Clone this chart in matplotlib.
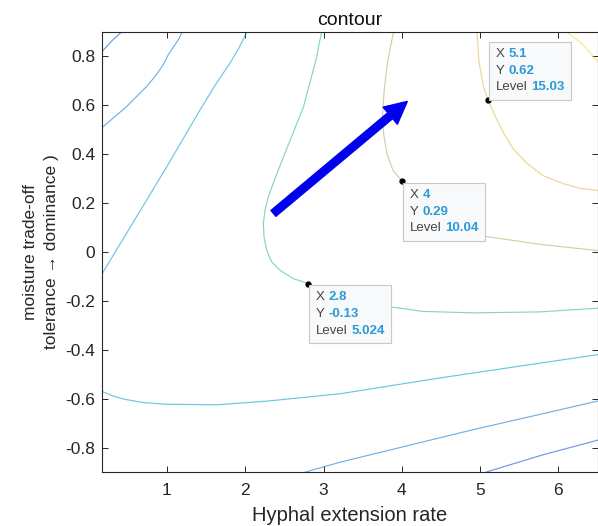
import numpy as np
import matplotlib.pyplot as plt
from matplotlib.colors import LinearSegmentedColormap, Normalize
from matplotlib.offsetbox import TextArea, HPacker, VPacker, AnnotationBbox

plt.rcParams['font.family'] = ['Liberation Sans', 'DejaVu Sans']
plt.rcParams['axes.unicode_minus'] = False

# contour lines (level, x, y)
lvl_m10_a_x = [0.17, 0.30, 0.42]
lvl_m10_a_y = [0.82, 0.865, 0.90]
lvl_m10_b_x = [5.08, 5.80, 6.50]
lvl_m10_b_y = [-0.90, -0.83, -0.77]

lvl_m5_a_x = [0.186, 0.335, 0.484, 0.612, 0.740, 0.847, 0.953, 1.017, 1.102, 1.157, 1.209]
lvl_m5_a_y = [0.513, 0.554, 0.595, 0.636, 0.677, 0.718, 0.766, 0.807, 0.848, 0.875, 0.909]
lvl_m5_b_x = [2.77, 3.21, 4.87, 6.50]
lvl_m5_b_y = [-0.90, -0.86, -0.73, -0.61]

lvl_0_a_x = [0.17, 0.56, 1.00, 1.42, 1.64, 1.80, 1.92, 2.02]
lvl_0_a_y = [-0.09, 0.117, 0.35, 0.58, 0.695, 0.77, 0.835, 0.90]
lvl_0_b_x = [0.17, 0.30, 0.45, 0.70, 1.00, 1.64, 2.28, 3.21, 4.49, 6.50]
lvl_0_b_y = [-0.57, -0.588, -0.602, -0.616, -0.623, -0.625, -0.61, -0.58, -0.515, -0.42]

lvl_5_x = [2.978, 2.944, 2.914, 2.829, 2.744, 2.616, 2.488, 2.381, 2.295, 2.253, 2.231,
           2.240, 2.274, 2.338, 2.445, 2.615, 2.806, 3.05, 3.30, 3.60, 3.89, 4.27, 4.91,
           5.77, 6.50]
lvl_5_y = [0.901, 0.853, 0.799, 0.696, 0.594, 0.491, 0.389, 0.301, 0.226, 0.171, 0.117,
           0.062, 0.007, -0.040, -0.075, -0.109, -0.129, -0.165, -0.195, -0.215, -0.226,
           -0.243, -0.249, -0.245, -0.23]

lvl_10_x = [3.894, 3.852, 3.809, 3.775, 3.754, 3.767, 3.809, 3.886, 3.992, 4.20, 4.50,
            4.80, 5.09, 5.77, 6.50]
lvl_10_y = [0.901, 0.833, 0.758, 0.662, 0.567, 0.485, 0.403, 0.335, 0.294, 0.22, 0.14,
            0.09, 0.063, 0.031, 0.006]

lvl_15_x = [4.96, 4.985, 5.04, 5.10, 5.19, 5.29, 5.42, 5.60, 5.80, 6.06, 6.28, 6.50]
lvl_15_y = [0.902, 0.78, 0.68, 0.624, 0.558, 0.493, 0.423, 0.362, 0.313, 0.280, 0.260, 0.252]

lvl_20_x = [6.11, 6.31, 6.50]
lvl_20_y = [0.90, 0.85, 0.78]

lines = [
    (-10, lvl_m10_a_x, lvl_m10_a_y), (-10, lvl_m10_b_x, lvl_m10_b_y),
    (-5, lvl_m5_a_x, lvl_m5_a_y), (-5, lvl_m5_b_x, lvl_m5_b_y),
    (0, lvl_0_a_x, lvl_0_a_y), (0, lvl_0_b_x, lvl_0_b_y),
    (5, lvl_5_x, lvl_5_y), (10, lvl_10_x, lvl_10_y),
    (15, lvl_15_x, lvl_15_y), (20, lvl_20_x, lvl_20_y),
]

# data tips
tip_x = [2.8, 4, 5.1]
tip_y = [-0.13, 0.29, 0.62]
tip_level = [5.024, 10.04, 15.03]

x_ticks = [1, 2, 3, 4, 5, 6]
y_ticks = [-0.8, -0.6, -0.4, -0.2, 0, 0.2, 0.4, 0.6, 0.8]

# parula-like colormap
parula = LinearSegmentedColormap.from_list('parula', [
    '#352a87', '#0f5cdd', '#1481d6', '#06a4ca', '#2eb7a4',
    '#87bf77', '#d1bb59', '#fec832', '#f9fb0e'])
norm = Normalize(-14, 23)

fig = plt.figure(figsize=(5.98, 5.26), dpi=100)
ax = fig.add_axes([102 / 598, 54 / 526, 495.5 / 598, 440 / 526])

for lev, xs, ys in lines:
    ax.plot(xs, ys, color=parula(norm(lev)), lw=0.85, alpha=0.6, zorder=2)

# arrow annotation
ax.annotate('', xy=(4.07, 0.616), xytext=(2.36, 0.158),
            arrowprops=dict(facecolor='#0000ee', edgecolor='#0000ee',
                            width=5.5, headwidth=16, headlength=16),
            zorder=4)

ax.plot(tip_x, tip_y, 'o', color='k', ms=3.5, zorder=5)

tip_align = [(0, 1), (0, 1), (0, 0)]
tip_off = [(5.5, -5.5), (5.5, -5.5), (5.5, 5)]
for i in range(len(tip_x)):
    rows = []
    for lab, val in [('X', '%g' % tip_x[i]), ('Y', '%g' % tip_y[i]),
                     ('Level', '%.4g' % tip_level[i])]:
        rows.append(HPacker(children=[
            TextArea(lab, textprops=dict(color='#444444', size=9.5)),
            TextArea(val, textprops=dict(color='#2a9bd8', size=9.5, weight='bold'))],
            sep=3, pad=0, align='baseline'))
    box = VPacker(children=rows, sep=3.5, pad=0, align='left')
    ab = AnnotationBbox(box, (tip_x[i], tip_y[i]), xybox=tip_off[i],
                        boxcoords='offset points', box_alignment=tip_align[i],
                        pad=0.45, frameon=True,
                        bboxprops=dict(facecolor='#f8f9fa', edgecolor='#c8c8c8', lw=0.8))
    ab.set_zorder(6)
    ax.add_artist(ab)

ax.set_xlim(0.17, 6.5)
ax.set_ylim(-0.9, 0.9)
ax.set_xticks(x_ticks)
ax.set_yticks(y_ticks)
ax.set_yticklabels(['%g' % v for v in y_ticks])

for s in ax.spines.values():
    s.set_color('#262626')
    s.set_linewidth(0.8)
ax.tick_params(direction='in', length=4, width=0.7, color='#262626',
               labelcolor='#262626', labelsize=12.5, top=True, right=True)
ax.tick_params(axis='x', pad=8)
ax.tick_params(axis='y', pad=5)

ax.set_title('contour', fontsize=14, color='#111111', pad=5)
ax.set_xlabel('Hyphal extension rate', fontsize=14.5, color='#262626', labelpad=6)
ax.set_ylabel('moisture trade-off\ntolerance \u2192 dominance )', fontsize=12.5,
              color='#262626', linespacing=1.5)
ax.yaxis.set_label_coords(-0.087, 0.5)

fig.savefig('out.png', dpi=100)
